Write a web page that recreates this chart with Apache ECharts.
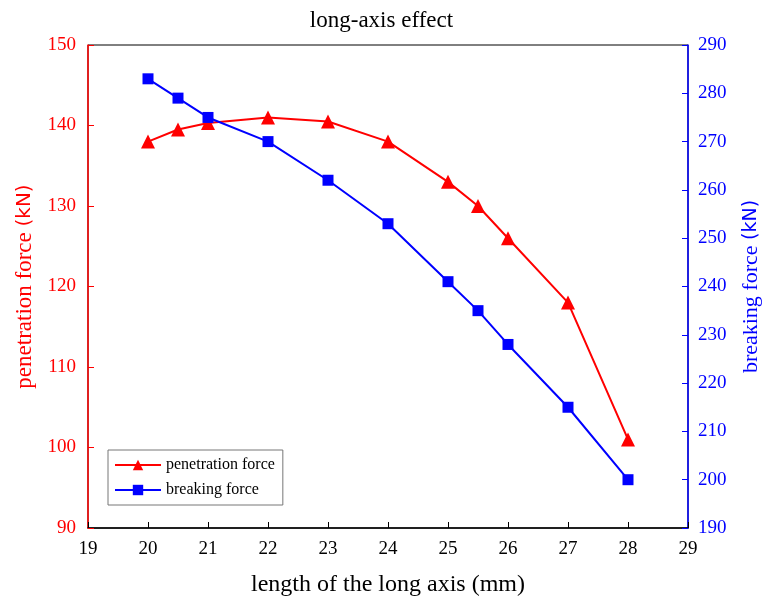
<!DOCTYPE html>
<html>
<head>
<meta charset="utf-8">
<script src="https://cdn.jsdelivr.net/npm/echarts@6/dist/echarts.min.js"></script>
<style>html,body{margin:0;padding:0;background:#fff;overflow:hidden}#c{width:763px;height:605px}</style>
</head>
<body>
<div id="c"></div>
<script>
var xValues = [20, 20.5, 21, 22, 23, 24, 25, 25.5, 26, 27, 28];
var penetrationForce = [138, 139.5, 140.3, 141, 140.5, 138, 133, 130, 126, 118, 101];
var breakingForce = [283, 279, 275, 270, 262, 253, 241, 235, 228, 215, 200];
var seriesNames = ['penetration force', 'breaking force'];

var serif = 'Liberation Serif';
function pairs(xs, ys) { return xs.map(function (x, i) { return [x, ys[i]]; }); }

var chart = echarts.init(document.getElementById('c'));
chart.setOption({
  animation: false,
  backgroundColor: '#fff',
  title: {
    text: 'long-axis effect', left: 'center', top: 4,
    textStyle: { fontFamily: serif, fontSize: 23, fontWeight: 'normal', color: '#000' }
  },
  grid: { left: 88, right: 75, top: 45, bottom: 77, show: true, borderColor: '#000', borderWidth: 1,
          containLabel: false, outerBoundsMode: 'none' },
  legend: {
    left: 108, top: 450, orient: 'vertical',
    itemWidth: 46, itemHeight: 13, itemGap: 9,
    borderColor: '#777', borderWidth: 1, padding: [7, 8, 7, 6],
    textStyle: { fontFamily: serif, fontSize: 16, color: '#000' },
    data: seriesNames
  },
  xAxis: {
    type: 'value', min: 19, max: 29, interval: 1,
    name: 'length of the long axis (mm)', nameLocation: 'middle', nameGap: 45,
    nameTextStyle: { fontFamily: serif, fontSize: 24, color: '#000' },
    axisLine: { lineStyle: { color: '#000', width: 1.5 } },
    axisTick: { inside: true, length: 6, lineStyle: { color: '#000' } },
    axisLabel: { fontFamily: serif, fontSize: 19, color: '#000', margin: 12 },
    splitLine: { show: false }
  },
  yAxis: [{
    type: 'value', min: 90, max: 150, interval: 10,
    name: '{a|penetration force }{b|(kN)}', nameLocation: 'middle', nameGap: 48,
    nameTextStyle: { color: '#f00', fontFamily: serif, fontSize: 23, rich: {
      a: { fontFamily: serif, fontSize: 23, color: '#f00' },
      b: { fontFamily: 'DejaVu Sans', fontSize: 20, color: '#f00' } } },
    axisLine: { show: true, lineStyle: { color: '#f00', width: 1.5 } },
    axisTick: { inside: true, length: 6, lineStyle: { color: '#f00' } },
    axisLabel: { fontFamily: serif, fontSize: 19, color: '#f00', margin: 12 },
    splitLine: { show: false }
  }, {
    type: 'value', min: 190, max: 290, interval: 10, position: 'right',
    name: '{a|breaking force }{b|(kN)}', nameLocation: 'middle', nameGap: 52, nameRotate: 90,
    nameTextStyle: { color: '#00f', fontFamily: serif, fontSize: 22, rich: {
      a: { fontFamily: serif, fontSize: 22, color: '#00f' },
      b: { fontFamily: 'DejaVu Sans', fontSize: 19, color: '#00f' } } },
    axisLine: { show: true, lineStyle: { color: '#00f', width: 1.5 } },
    axisTick: { inside: true, length: 6, lineStyle: { color: '#00f' } },
    axisLabel: { fontFamily: serif, fontSize: 19, color: '#00f', margin: 10 },
    splitLine: { show: false }
  }],
  series: [{
    name: seriesNames[0], type: 'line', yAxisIndex: 0,
    data: pairs(xValues, penetrationForce),
    symbol: 'triangle', symbolSize: 14,
    lineStyle: { color: '#f00', width: 2 }, itemStyle: { color: '#f00' }
  }, {
    name: seriesNames[1], type: 'line', yAxisIndex: 1,
    data: pairs(xValues, breakingForce),
    symbol: 'rect', symbolSize: 11,
    lineStyle: { color: '#00f', width: 2 }, itemStyle: { color: '#00f' }
  }]
});
</script>
</body>
</html>
